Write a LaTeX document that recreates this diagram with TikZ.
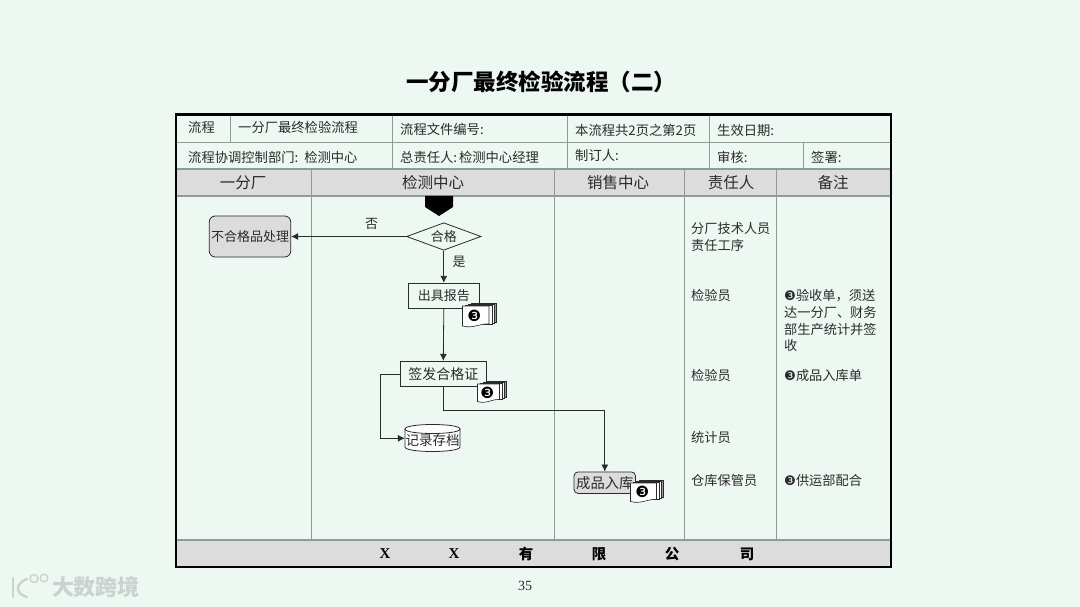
\documentclass[tikz,border=0pt]{standalone}
\usepackage{fontspec}
\setmainfont{Noto Sans CJK SC}
\newfontfamily\serifnum{Liberation Serif}
\newfontfamily\dejav{DejaVu Sans}
\usetikzlibrary{shapes.geometric,arrows.meta}
\definecolor{pagebg}{HTML}{EDF8F3}
\definecolor{gridc}{HTML}{8E9C98}
\definecolor{headc}{HTML}{DCDCDC}
\definecolor{inkc}{HTML}{2A2A2A}
\definecolor{wmc}{HTML}{CBD3D0}
\newcommand{\cthree}{{\dejav ❸}}
\newcommand{\fsz}[1]{\fontsize{#1}{#1}\selectfont}
\tikzset{
  x=1pt,y=-1pt,
  gridline/.style={draw=gridc,line width=0.9pt},
  headline/.style={draw=gridc,line width=1.6pt},
  cell/.style={anchor=west,inner sep=0pt,text=inkc,font=\fsz{13.3}},
  bodytxt/.style={anchor=west,inner sep=0pt,text=inkc,font=\fsz{13.2}},
  headtxt/.style={inner sep=0pt,text=inkc,font=\fsz{15.5}},
  foottxt/.style={inner sep=0pt,text=black,font=\serifnum\bfseries\fsz{15}},
  flowline/.style={draw=inkc,line width=0.8pt},
  arrowline/.style={flowline,-{Latex[length=7pt,width=7pt]}},
  procbox/.style={draw=inkc,line width=0.8pt,inner sep=0pt,font=\fsz{13},text=inkc},
  greybox/.style={procbox,fill=headc,rounded corners=4pt},
  sheet/.style={draw=inkc,fill=white,line width=0.6pt},
}
% x y = top-left of the front sheet, w h = its size
\newcommand{\docstack}[5]{%
  \fill[headc!70!black,draw=inkc,line width=0.5pt] (#2+9,#3-2) rectangle (#2+#4+7,#3+#5-6);
  \draw[sheet] (#2+6,#3-1) rectangle (#2+#4+5,#3+#5-5);
  \draw[sheet] (#2+3,#3) rectangle (#2+#4+3,#3+#5-4);
  \draw[sheet] (#2,#3+1) -- (#2+#4,#3+1) -- (#2+#4,#3+#5-4)
     .. controls (#2+#4*0.7,#3+#5-5) and (#2+#4*0.4,#3+#5+1) .. (#2,#3+#5-2) -- cycle;
  \node[inner sep=0pt,text=black,font=\fsz{15.5}] (#1) at (#2+#4*0.45,#3+#5*0.48) {\cthree};
}
\begin{document}
\begin{tikzpicture}
\useasboundingbox (0,0) rectangle (1080,607);
\fill[pagebg] (0,0) rectangle (1080,607);

% title
\node[inner sep=0pt,text=black,font=\bfseries\fsz{22.5}] (title) at (541,82) {一分厂最终检验流程（二）};

% header and footer bands
\fill[headc] (176,169) rectangle (891,196);
\fill[headc] (176,540) rectangle (891,567);

% table grid
\draw[gridline] (176,142) -- (891,142);
\draw[headline] (176,169) -- (891,169);
\draw[headline] (176,196) -- (891,196);
\draw[headline] (176,540) -- (891,540);
\draw[gridline] (230,114) -- (230,142);
\draw[gridline] (392,114) -- (392,169);
\draw[gridline] (567,114) -- (567,169);
\draw[gridline] (709,114) -- (709,169);
\draw[gridline] (803,142) -- (803,169);
\draw[gridline] (311,169) -- (311,540);
\draw[gridline] (554,169) -- (554,540);
\draw[gridline] (684.5,169) -- (684.5,540);
\draw[gridline] (776.5,169) -- (776.5,540);
\draw[draw=black,line width=2.2pt] (176,114.5) rectangle (891,567);

% table text
\node[cell] (t1) at (188,127) {流程};
\node[cell] (t2) at (238,127) {一分厂最终检验流程};
\node[cell] (t3) at (400,129) {流程文件编号:};
\node[cell] (t4) at (575,130) {本流程共2页之第2页};
\node[cell] (t5) at (717,130) {生效日期:};
\node[cell] (t6) at (188,157) {流程协调控制部门:\hspace{6pt}检测中心};
\node[cell] (t7) at (400,157) {总责任人:\hspace{2pt}检测中心经理};
\node[cell] (t8) at (575,155) {制订人:};
\node[cell] (t9) at (717,157) {审核:};
\node[cell] (t10) at (811,157) {签署:};

% column heads
\node[headtxt] (h1) at (243,183) {一分厂};
\node[headtxt] (h2) at (433,183) {检测中心};
\node[headtxt] (h3) at (618,183) {销售中心};
\node[headtxt] (h4) at (731,183) {责任人};
\node[headtxt] (h5) at (833,183) {备注};

% footer
\node[foottxt] (f1) at (385,554) {X};
\node[foottxt] (f2) at (454,554) {X};
\node[inner sep=0pt,text=black,font=\bfseries\fsz{14.5}] (f3) at (526,554) {有};
\node[inner sep=0pt,text=black,font=\bfseries\fsz{14.5}] (f4) at (599,554) {限};
\node[inner sep=0pt,text=black,font=\bfseries\fsz{14.5}] (f5) at (672,554) {公};
\node[inner sep=0pt,text=black,font=\bfseries\fsz{14.5}] (f6) at (747,554) {司};
\node[inner sep=0pt,text=inkc,font=\serifnum\fsz{14}] (pageno) at (525,586) {35};

% flow nodes
\fill[black] (425,196) -- (453,196) -- (453,207) -- (439,216) -- (425,207) -- cycle;
\node[procbox,diamond,aspect=2.72,minimum width=74.5pt,minimum height=27.5pt,fill=pagebg] (dec) at (443.8,236.5) {合格};
\node[greybox,minimum width=81.5pt,minimum height=41pt,rounded corners=6pt] (rej) at (250,236.5) {不合格品处理};
\node[procbox,minimum width=71pt,minimum height=25.5pt,fill=pagebg] (report) at (443.8,296) {出具报告};
\node[procbox,minimum width=85.5pt,minimum height=25.5pt,fill=pagebg,font=\fsz{14}] (sign) at (443.3,374) {签发合格证};
% record store: cylinder outline round a named text frame
\draw[draw=inkc,fill=white,line width=0.8pt] (405,429) .. controls (405,423) and (460,423) .. (460,429) -- (460,447)
   .. controls (460,453) and (405,453) .. (405,447) -- cycle;
\draw[draw=inkc,line width=0.8pt] (405,429) .. controls (405,435) and (460,435) .. (460,429);
\node[inner sep=0pt,minimum width=55pt,minimum height=18pt,text=inkc,font=\fsz{13.5}] (store) at (432.5,440) {记录存档};
\node[greybox,minimum width=61.5pt,minimum height=21.5pt] (stock) at (604.8,482.7) {};
\node[inner sep=0pt,text=inkc,font=\fsz{14.3},anchor=west] (stocktxt) at (576,482.7) {成品入库};

% document stacks
\docstack{d1}{462.5}{305}{26.5}{23}
\docstack{d2}{477.5}{383}{22}{20.5}
\docstack{d3}{630.5}{482}{26}{21.5}

% connectors
\coordinate (lbend) at (380.3,374);
\coordinate (lbend2) at (380.3,438.3);
\coordinate (rbend) at (443.3,410.3);
\draw[arrowline] (dec.west) -- (rej.east);
\draw[arrowline] (dec.south) -- (report.north);
\draw[arrowline] (report.south) -- (sign.north);
\draw[arrowline] (sign.west) -- (lbend) -- (lbend2) -- (store.west |- lbend2);
\draw[arrowline] (sign.south) -- (rbend) -| (stock.north);

% edge labels
\node[inner sep=0pt,text=inkc,font=\fsz{13}] (no) at (371.5,224) {否};
\node[inner sep=0pt,text=inkc,font=\fsz{13}] (yes) at (459,262) {是};

% owner column
\node[bodytxt] (o1) at (691,229) {分厂技术人员};
\node[bodytxt] (o2) at (691,245) {责任工序};
\node[bodytxt] (o3) at (691,295) {检验员};
\node[bodytxt] (o4) at (691,375) {检验员};
\node[bodytxt] (o5) at (691,437) {统计员};
\node[bodytxt] (o6) at (691,480) {仓库保管员};

% remarks column
\node[bodytxt] (n1) at (784,296) {\cthree 验收单，须送};
\node[bodytxt] (n2) at (784,312.5) {达一分厂、财务};
\node[bodytxt] (n3) at (784,329) {部生产统计并签};
\node[bodytxt] (n4) at (784,345) {收};
\node[bodytxt] (n5) at (784,376) {\cthree 成品入库单};
\node[bodytxt] (n6) at (784,480) {\cthree 供运部配合};

% watermark
\begin{scope}[wmc,line width=2.4pt,line cap=round]
\draw (13,578) -- (13,597);
\draw (27,579) .. controls (15,583) and (15,594) .. (27,597);
\draw[line width=1.4pt] (34,578.5) circle[radius=4];
\draw[line width=1.4pt] (44,578) circle[radius=3.8];
\end{scope}
\node[inner sep=0pt,text=wmc,font=\bfseries\fsz{22}] (wm) at (96,587) {大数跨境};
\end{tikzpicture}
\end{document}
